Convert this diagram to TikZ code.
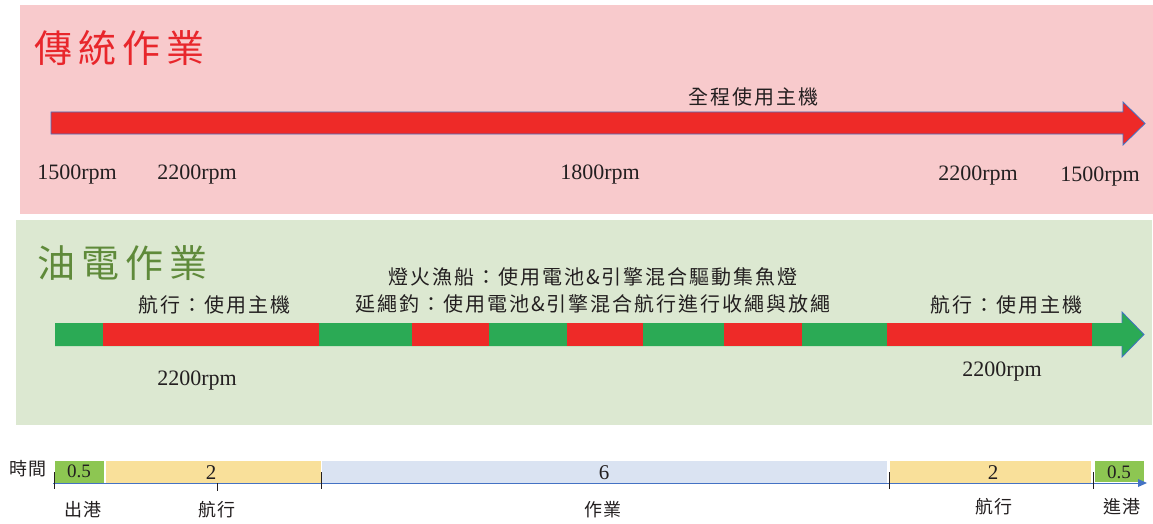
\documentclass[tikz,border=0pt]{standalone}
\usepackage{fontspec}
\setmainfont{Liberation Serif}
\newfontfamily\cjk[LetterSpace=10]{Noto Sans CJK TC}
\newfontfamily\cjktitle[LetterSpace=16]{Noto Sans CJK TC}
\definecolor{pinkbg}{HTML}{F8CACC}
\definecolor{greenbg}{HTML}{DCE8D1}
\definecolor{barred}{HTML}{EE2A28}
\definecolor{bargreen}{HTML}{2BAA55}
\definecolor{outl}{HTML}{4472C4}
\definecolor{tlgreen}{HTML}{8DC652}
\definecolor{tlyellow}{HTML}{F9E09A}
\definecolor{tlblue}{HTML}{DAE3F2}
\definecolor{titlered}{HTML}{E8262B}
\definecolor{titlegreen}{HTML}{5F8A3A}
\definecolor{ink}{HTML}{231F20}
\tikzset{
  rpm/.style={inner sep=0pt, anchor=base, text=ink, font=\fontsize{22}{24}\selectfont},
  cjklabel/.style={inner sep=0pt, text=ink, font=\cjk\fontsize{20}{27}\selectfont, align=center},
  tllabel/.style={inner sep=0pt, text=ink, font=\cjk\fontsize{18}{20}\selectfont},
  num/.style={inner sep=0pt, text=ink, font=\fontsize{19}{20}\selectfont},
  bignum/.style={inner sep=0pt, anchor=base, text=ink, font=\fontsize{21}{22}\selectfont},
  title/.style={inner sep=0pt, anchor=west, font=\cjktitle\fontsize{38}{40}\selectfont},
  tick/.style={draw=ink, line width=0.9pt},
}
\begin{document}
\begin{tikzpicture}[x=1pt,y=-1pt]
\useasboundingbox (0,0) rectangle (1153,524);
% panels
\fill[pinkbg] (20,5) rectangle (1153,214);
\fill[greenbg] (16,220) rectangle (1152,425);
% titles
\node[title, text=titlered] (t1) at (34,48) {傳統作業};
\node[title, text=titlegreen] (t2) at (37,263) {油電作業};
% top arrow
\draw[fill=barred, draw=outl, line width=0.8pt] (51,112) -- (1123,112) -- (1123,102) -- (1145,123.5) -- (1123,145) -- (1123,134) -- (51,134) -- cycle;
\node[cjklabel] (l1) at (753,97) {全程使用主機};
\node[rpm] (r1) at (77,179) {1500rpm};
\node[rpm] (r2) at (197,179) {2200rpm};
\node[rpm] (r3) at (600,179) {1800rpm};
\node[rpm] (r4) at (978,180) {2200rpm};
\node[rpm] (r5) at (1100,181.5) {1500rpm};
% hybrid bar
\fill[bargreen] (55,323) -- (1122,323) -- (1122,312) -- (1144,334.5) -- (1122,357) -- (1122,346) -- (55,346) -- cycle;
\fill[barred] (103,323) rectangle (319,346);
\fill[barred] (412,323) rectangle (489,346);
\fill[barred] (567,323) rectangle (643,346);
\fill[barred] (724,323) rectangle (802,346);
\fill[barred] (887,323) rectangle (1092,346);
\draw[outl, line width=0.8pt] (1122,323) -- (1122,312) -- (1144,334.5) -- (1122,357) -- (1122,346);
\node[cjklabel] (h1) at (214,305) {航行：使用主機};
\node[cjklabel] (h2) at (593,290) {燈火漁船：使用電池\&引擎混合驅動集魚燈\\延繩釣：使用電池\&引擎混合航行進行收繩與放繩};
\node[cjklabel] (h3) at (1006,305) {航行：使用主機};
\node[rpm] (r6) at (197,385) {2200rpm};
\node[rpm] (r7) at (1002,376.5) {2200rpm};
% timeline
\node[tllabel] (time) at (28,469) {時間};
\fill[tlgreen] (55,461) rectangle (104,483);
\fill[tlyellow] (106,461) rectangle (321,483);
\fill[tlblue] (322,461) rectangle (887,483);
\fill[tlyellow] (890,461) rectangle (1091,483);
\fill[tlgreen] (1095,461) rectangle (1144,482);
\coordinate (ax0) at (53,483);
\coordinate (ax1) at (1147,483);
\draw[outl, line width=0.9pt] (ax0) -- (1138,483);
\fill[outl] (1138,479) -- (ax1) -- (1138,487) -- cycle;
\draw[tick] (54,472) -- (54,489);
\draw[tick] (217,483) -- (217,491);
\draw[tick] (321,472) -- (321,489);
\draw[tick] (889,472) -- (889,489);
\draw[tick] (1093,472) -- (1093,489);
\node[num] (n1) at (79,471) {0.5};
\node[bignum] (n2) at (211,479) {2};
\node[bignum] (n3) at (604,479) {6};
\node[bignum] (n4) at (993,479) {2};
\node[num] (n5) at (1119,472) {0.5};
\node[tllabel] (b1) at (83,510) {出港};
\node[tllabel] (b2) at (217,510) {航行};
\node[tllabel] (b3) at (603,510) {作業};
\node[tllabel] (b4) at (994,507) {航行};
\node[tllabel] (b5) at (1122,507) {進港};
\end{tikzpicture}
\end{document}
